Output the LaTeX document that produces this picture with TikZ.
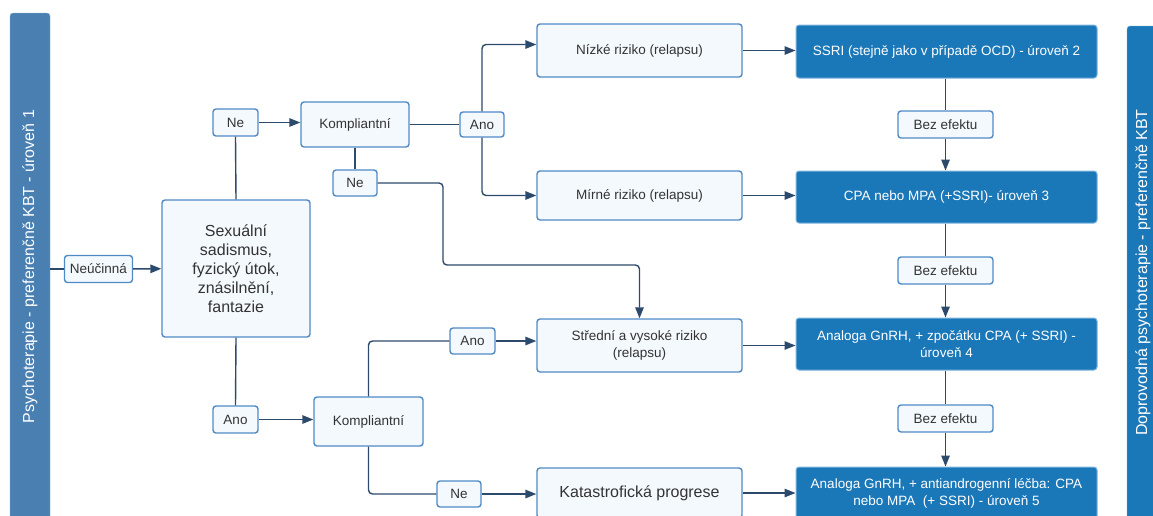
\documentclass[tikz,border=0pt]{standalone}
\usepackage{fontspec}
\setmainfont{Liberation Sans}
\usetikzlibrary{arrows.meta}
\definecolor{boxedge}{HTML}{4F8AC4}
\definecolor{boxfill}{HTML}{F4F9FE}
\definecolor{darkfill}{HTML}{1A77B8}
\definecolor{darkedge}{HTML}{7FB4DE}
\definecolor{barleft}{HTML}{4A7FB2}
\definecolor{linec}{HTML}{2C4A6B}
\definecolor{txt}{HTML}{333333}
\tikzset{
  lightbox/.style={draw=boxedge,fill=boxfill,line width=1.4pt,rounded corners=3pt,
    text=txt,align=center,inner sep=1pt,font=\fontsize{13.5}{17}\selectfont},
  tagbox/.style={lightbox,minimum width=44pt,minimum height=26pt},
  darkbox/.style={draw=darkedge,fill=darkfill,line width=1pt,rounded corners=3pt,
    text=white,align=center,inner sep=1pt,minimum width=301pt,minimum height=52pt,
    font=\fontsize{13.5}{17}\selectfont},
  sidebar/.style={rounded corners=3pt,text=white,inner sep=0pt,
    font=\fontsize{16}{18}\selectfont},
  link/.style={draw=linec,line width=1.4pt,rounded corners=4pt},
  arrow/.style={link,-{Triangle[length=11pt,width=8.5pt]}}
}
\begin{document}
\begin{tikzpicture}[x=1pt,y=-1pt]
\useasboundingbox (0,0) rectangle (1153,515);
% boční pruhy
\node[sidebar,fill=barleft,draw=barleft!60,minimum width=40pt,minimum height=507pt] (psy) at (30,266.5) {};
\node[sidebar,rotate=90] at (psy) {Psychoterapie - preferenčně KBT - úroveň 1};
\node[sidebar,fill=darkfill,draw=darkedge,minimum width=32pt,minimum height=493pt] (dopr) at (1143,272.5) {};
\node[sidebar,rotate=90] at (dopr) {Doprovodná psychoterapie - preferenčně KBT};
% levá část
\node[tagbox,minimum width=68pt,minimum height=27pt] (neucinna) at (98.5,269) {Neúčinná};
\node[lightbox,minimum width=148pt,minimum height=137pt,font=\fontsize{16}{19}\selectfont] (main) at (236,268.5)
  {Sexuální\\sadismus,\\fyzický útok,\\znásilnění,\\fantazie};
\node[tagbox,minimum width=45pt,minimum height=27pt] (ne1) at (235.5,122.5) {Ne};
\node[tagbox,minimum width=45pt,minimum height=27pt] (ano2) at (235.5,419.5) {Ano};
\node[lightbox,minimum width=108pt,minimum height=45pt] (komp1) at (355,124.5) {Kompliantní};
\node[lightbox,minimum width=109pt,minimum height=49pt] (komp2) at (368.5,421.5) {Kompliantní};
\node[tagbox,minimum height=25pt] (ano1) at (482,124.5) {Ano};
\node[tagbox] (ne2) at (355,183) {Ne};
\node[tagbox,minimum width=45pt] (ano3) at (472.5,341) {Ano};
\node[tagbox] (ne3) at (459,494) {Ne};
% riziko
\node[lightbox,minimum width=205pt,minimum height=53pt] (nizke) at (639.5,50.5) {Nízké riziko (relapsu)};
\node[lightbox,minimum width=205pt,minimum height=49pt] (mirne) at (639.5,195.5) {Mírné riziko (relapsu)};
\node[lightbox,minimum width=205pt,minimum height=53pt] (stredni) at (639.5,345.5) {Střední a vysoké riziko\\(relapsu)};
\node[lightbox,minimum width=205pt,minimum height=50pt,font=\fontsize{16}{19}\selectfont] (kat) at (639.5,493) {Katastrofická progrese};
% léčba
\node[darkbox,minimum height=53pt] (ssri) at (946.5,51.5) {SSRI (stejně jako v případě OCD) - úroveň 2};
\node[darkbox] (cpa) at (946.5,197) {CPA nebo MPA (+SSRI)- úroveň 3};
\node[darkbox] (an4) at (946.5,344) {Analoga GnRH, + zpočátku CPA (+ SSRI) -\\úroveň 4};
\node[darkbox] (an5) at (946.5,493) {Analoga GnRH, + antiandrogenní léčba: CPA\\nebo MPA\ \ (+ SSRI) - úroveň 5};
\foreach \n/\y in {bez1/124.5,bez2/270.5,bez3/418.5}
  \node[tagbox,minimum width=95pt,minimum height=27pt] (\n) at (945.5,\y) {Bez efektu};
% spojnice
\coordinate (bend) at (443,265);
\draw[link] (psy.east |- neucinna) -- (neucinna);
\draw[arrow] (neucinna) -- (main);
\draw[link] (main.north) -- (ne1.south);
\draw[arrow] (ne1.east) -- (ne1.east -| komp1.west);
\draw[link] (komp1) -- (ano1);
\draw[arrow] (ano1.north) |- ([yshift=6pt]nizke.west);
\draw[arrow] (ano1.south) |- (mirne.west);
\draw[link] (komp1.south) -- (ne2.north);
\draw[arrow] (ne2.east) -| (bend) -| (stredni.north);
\draw[link] (main.south) -- (ano2.north);
\draw[arrow] (ano2.east) -- (ano2.east -| komp2.west);
\draw[link] (komp2.north) |- (ano3.west);
\draw[arrow] (ano3.east) -- (ano3.east -| stredni.west);
\draw[link] (komp2.south) |- (ne3.west);
\draw[arrow] (ne3.east) -- (ne3.east -| kat.west);
\draw[arrow] (nizke.east) -- (nizke.east -| ssri.west);
\draw[arrow] (mirne.east) -- (mirne.east -| cpa.west);
\draw[arrow] (stredni.east) -- (stredni.east -| an4.west);
\draw[arrow] (kat.east) -- (kat.east -| an5.west);
\draw[link] (ssri.south -| bez1) -- (bez1.north);
\draw[arrow] (bez1.south) -- (bez1.south |- cpa.north);
\draw[link] (cpa.south -| bez2) -- (bez2.north);
\draw[arrow] (bez2.south) -- (bez2.south |- an4.north);
\draw[link] (an4.south -| bez3) -- (bez3.north);
\draw[arrow] (bez3.south) -- (bez3.south |- an5.north);
\end{tikzpicture}
\end{document}
